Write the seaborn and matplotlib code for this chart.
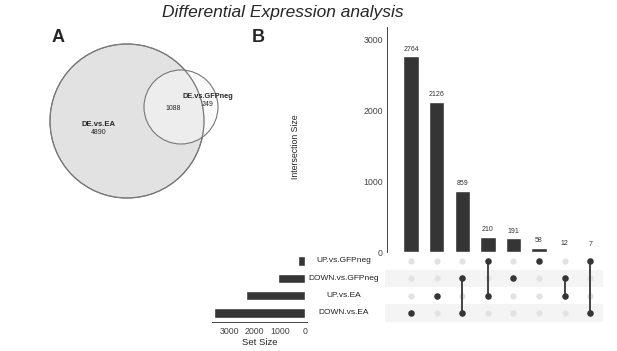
import numpy as np
import pandas as pd
import seaborn as sns
import matplotlib.pyplot as plt
from matplotlib.patches import Circle

# --- data ---
venn_labels = ['DE.vs.EA', 'DE.vs.GFPneg']
venn_only = [4890, 249]
venn_overlap = 1088

set_names = ['UP.vs.GFPneg', 'DOWN.vs.GFPneg', 'UP.vs.EA', 'DOWN.vs.EA']
set_sizes = [275, 1062, 2348, 3630]

inter_sizes = [2764, 2126, 859, 210, 191, 58, 12, 7]
inter_members = [
    ['DOWN.vs.EA'],
    ['UP.vs.EA'],
    ['DOWN.vs.GFPneg', 'DOWN.vs.EA'],
    ['UP.vs.GFPneg', 'UP.vs.EA'],
    ['DOWN.vs.GFPneg'],
    ['UP.vs.GFPneg'],
    ['DOWN.vs.GFPneg', 'UP.vs.EA'],
    ['UP.vs.GFPneg', 'DOWN.vs.EA'],
]

W, H = 617, 351
BAR = '#353535'

sns.set_style('white')
plt.rcParams['font.family'] = ['Liberation Sans', 'DejaVu Sans']

fig = plt.figure(figsize=(W / 100, H / 100), dpi=100)


def px_axes(x0, y0, x1, y1):
    # pixel box (top-left origin) -> figure axes
    return fig.add_axes([x0 / W, 1 - y1 / H, (x1 - x0) / W, (y1 - y0) / H])


fig.text(283 / W, 1 - 13 / H, 'Differential Expression analysis', ha='center', va='center',
         fontsize=12.5, style='italic')
fig.text(58 / W, 1 - 38 / H, 'A', ha='center', va='center', fontsize=13, fontweight='bold')
fig.text(258 / W, 1 - 38 / H, 'B', ha='center', va='center', fontsize=13, fontweight='bold')

# --- Venn ---
ax_v = px_axes(40, 30, 240, 210)
ax_v.set_xlim(40, 240)
ax_v.set_ylim(210, 30)
ax_v.set_aspect('equal')
ax_v.axis('off')
ax_v.add_patch(Circle((127, 121), 77, facecolor='#e2e2e2', edgecolor='#777777', lw=0.8))
ax_v.add_patch(Circle((181, 107), 37, facecolor='#f7f7f7', edgecolor='none', alpha=0.55))
ax_v.add_patch(Circle((181, 107), 37, facecolor='none', edgecolor='#777777', lw=0.8))
ax_v.add_patch(Circle((127, 121), 77, facecolor='none', edgecolor='#777777', lw=0.8))
ax_v.text(99, 124, venn_labels[0], ha='center', va='center', fontsize=5.5, fontweight='bold')
ax_v.text(99, 132, str(venn_only[0]), ha='center', va='center', fontsize=5)
ax_v.text(208, 96, venn_labels[1], ha='center', va='center', fontsize=5.3, fontweight='bold')
ax_v.text(208, 104, str(venn_only[1]), ha='center', va='center', fontsize=5)
ax_v.text(173, 109, str(venn_overlap), ha='center', va='center', fontsize=5)

# --- UpSet geometry ---
n = len(inter_sizes)
xlo, xhi = -0.94, 7.5

# intersection bars
ax_b = px_axes(387, 27, 603, 252)
df_i = pd.DataFrame({'pos': np.arange(n), 'size': inter_sizes})
sns.barplot(data=df_i, x='pos', y='size', color=BAR, width=0.6, saturation=1,
            native_scale=True, ax=ax_b)
for i, v in enumerate(inter_sizes):
    ax_b.text(i, v + 55, str(v), ha='center', va='bottom', fontsize=5, color='#333333')
ax_b.set_xlim(xlo, xhi)
ax_b.set_ylim(0, 3180)
ax_b.set_yticks([0, 1000, 2000, 3000])
ax_b.tick_params(axis='y', labelsize=6.3, length=2, width=0.6, pad=1, colors='#444444')
ax_b.set_xticks([])
ax_b.set_xlabel('')
ax_b.set_ylabel('Intersection Size', fontsize=6.3)
ax_b.yaxis.set_label_coords(-0.405, 0.47)
for s in ['top', 'right', 'bottom']:
    ax_b.spines[s].set_visible(False)
ax_b.spines['left'].set_linewidth(0.7)
ax_b.spines['left'].set_color('#444444')

# matrix
ax_m = px_axes(385, 252.3, 603, 321.7)
ax_m.set_xlim(xlo - 0.08, xhi)
ax_m.set_ylim(-0.5, 3.5)
ax_m.axis('off')
nrow = len(set_names)
row_y = {name: nrow - 1 - k for k, name in enumerate(set_names)}
for k, name in enumerate(set_names):
    if k % 2 == 1:
        ax_m.axhspan(row_y[name] - 0.5, row_y[name] + 0.5, color='#f4f4f4', lw=0)
grid = pd.DataFrame([(i, row_y[s]) for i in range(n) for s in set_names], columns=['x', 'y'])
sns.scatterplot(data=grid, x='x', y='y', color='#e2e2e2', s=20, linewidth=0, ax=ax_m)
for i, mem in enumerate(inter_members):
    ys = [row_y[s] for s in mem]
    if len(ys) > 1:
        ax_m.plot([i, i], [min(ys), max(ys)], color=BAR, lw=1.3, zorder=3)
act = pd.DataFrame([(i, row_y[s]) for i, mem in enumerate(inter_members) for s in mem],
                   columns=['x', 'y'])
sns.scatterplot(data=act, x='x', y='y', color=BAR, s=22, linewidth=0, ax=ax_m, zorder=4)
ax_m.set_xlabel('')
ax_m.set_ylabel('')
for k, name in enumerate(set_names):
    fig.text(344 / W, 1 - (261 + 17.3 * k) / H, name, ha='center', va='center',
             fontsize=6, color='#222222')

# set size bars
ax_s = px_axes(212, 252.3, 307, 321.7)
df_s = pd.DataFrame({'set': set_names, 'size': set_sizes, 'y': [row_y[s] for s in set_names]})
sns.barplot(data=df_s, x='size', y='y', orient='h', color=BAR, width=0.55, saturation=1,
            native_scale=True, ax=ax_s)
ax_s.set_ylim(-0.5, 3.5)
ax_s.set_xlim(3700, -80)
ax_s.set_xticks([3000, 2000, 1000, 0])
ax_s.set_yticks([])
ax_s.tick_params(axis='x', labelsize=6.3, length=2, width=0.6, pad=1.5, colors='#444444')
ax_s.set_xlabel('Set Size', fontsize=6.8, labelpad=2)
ax_s.set_ylabel('')
for s in ['top', 'right', 'left']:
    ax_s.spines[s].set_visible(False)
ax_s.spines['bottom'].set_linewidth(0.7)
ax_s.spines['bottom'].set_color('#444444')

fig.savefig('out.png', dpi=100)
